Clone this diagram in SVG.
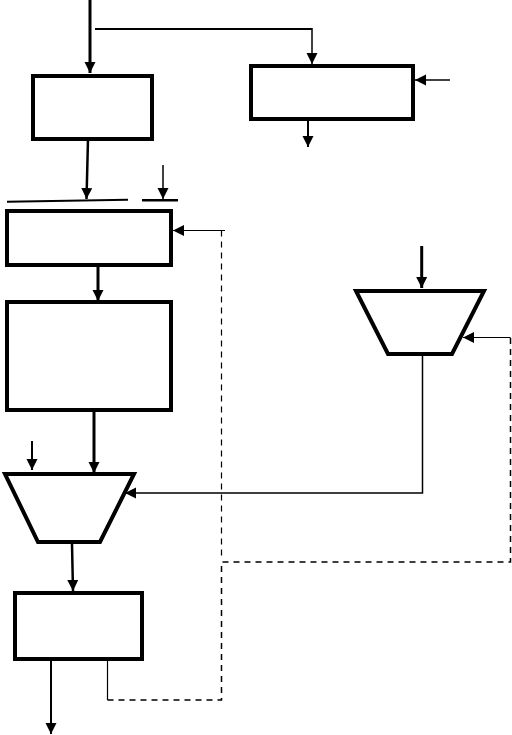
<svg xmlns="http://www.w3.org/2000/svg" width="512" height="735" viewBox="0 0 512 735">
<style>
.box{fill:#fff;stroke:#000;stroke-width:4}
.ln{fill:none;stroke:#000}
.dash{fill:none;stroke:#000;stroke-dasharray:6,5}
</style>
<defs>
<marker id="ah" markerUnits="userSpaceOnUse" markerWidth="12" markerHeight="12" refX="11" refY="6" orient="auto" viewBox="0 0 12 12">
<path d="M0,0.5 L11,6 L0,11.5 z" fill="#000"/>
</marker>
</defs>
<rect width="512" height="735" fill="#fff"/>
<g id="connectors">
<path class="ln" stroke-width="3" d="M90,0 V73" marker-end="url(#ah)"/>
<path class="ln" stroke-width="2" d="M95,29 H312"/>
<path class="ln" stroke-width="1.5" d="M312,28 V64" marker-end="url(#ah)"/>
<path class="ln" stroke-width="1.5" d="M450,80 H415" marker-end="url(#ah)"/>
<path class="ln" stroke-width="2" d="M308,117 V147" marker-end="url(#ah)"/>
<path class="ln" stroke-width="2.5" d="M88,139 L86.5,199" marker-end="url(#ah)"/>
<path class="ln" stroke-width="2" d="M7,201.7 L128,199.7"/>
<path class="ln" stroke-width="2.5" d="M142,200.3 H178"/>
<path class="ln" stroke-width="1.5" d="M163,165 V199" marker-end="url(#ah)"/>
<path class="ln" stroke-width="1.2" d="M225,230.5 H173" marker-end="url(#ah)"/>
<path class="ln" stroke-width="3" d="M98,265 V301" marker-end="url(#ah)"/>
<path class="ln" stroke-width="3" d="M421.7,246 V288" marker-end="url(#ah)"/>
<path class="ln" stroke-width="1.2" d="M510.5,337.5 H463" marker-end="url(#ah)"/>
<path class="ln" stroke-width="1.5" d="M422.5,356 V493 H125" marker-end="url(#ah)"/>
<path class="ln" stroke-width="2" d="M32,441 V470" marker-end="url(#ah)"/>
<path class="ln" stroke-width="3" d="M94,412 V473" marker-end="url(#ah)"/>
<path class="ln" stroke-width="2.5" d="M72,544 L73,591" marker-end="url(#ah)"/>
<path class="ln" stroke-width="2" d="M51,661 V734" marker-end="url(#ah)"/>
<path class="ln" stroke-width="1.2" d="M107.5,661 V700"/>
<path class="dash" stroke-width="1.2" d="M221.5,230.5 V560"/>
<path class="dash" stroke-width="1.5" d="M107.5,700 H221.5 V562 H510.5 V337.5"/>
</g>
<g id="box1"><rect class="box" x="33" y="76" width="119" height="63"/></g>
<g id="box2"><rect class="box" x="251" y="66" width="162" height="53"/></g>
<g id="box3"><rect class="box" x="7" y="211" width="164" height="54"/></g>
<g id="box4"><rect class="box" x="7" y="302" width="164" height="108"/></g>
<g id="mux1"><polygon class="box" points="356,291 484,291 452,354 388,354"/></g>
<g id="mux2"><polygon class="box" points="5,474 134,474 100,542 38,542"/></g>
<g id="box5"><rect class="box" x="15" y="593" width="127" height="66"/></g>
</svg>
